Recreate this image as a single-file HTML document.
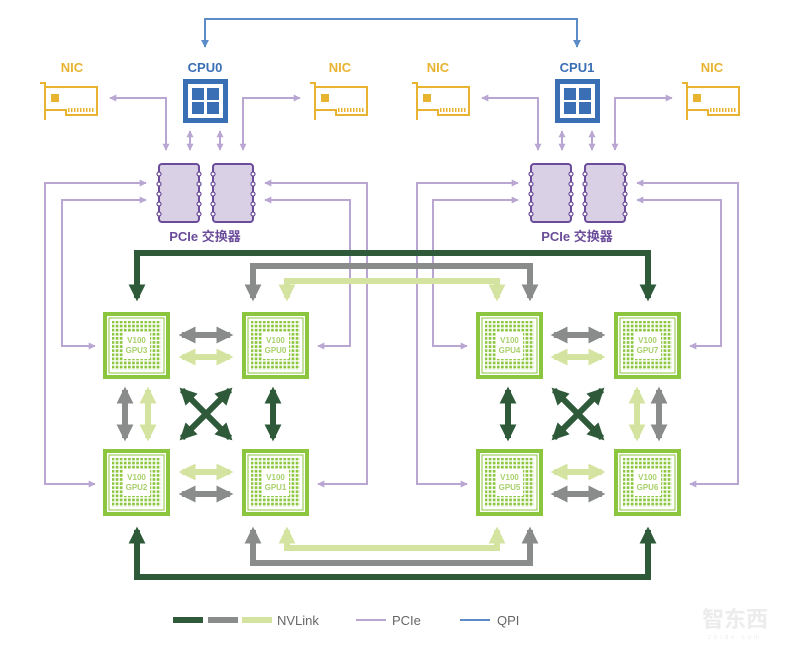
<!DOCTYPE html>
<html><head><meta charset="utf-8"><style>
html,body{margin:0;padding:0;background:#fff;}
svg{display:block;}
text{font-family:"Liberation Sans","Noto Sans CJK SC",sans-serif;}
</style></head><body>
<svg width="800" height="648" viewBox="0 0 800 648" xmlns="http://www.w3.org/2000/svg">
<defs>
<pattern id="dots" x="0" y="0" width="4.1" height="4.1" patternUnits="userSpaceOnUse">
<rect x="0.4" y="0.4" width="2.7" height="2.7" fill="#8cc63f"/>
</pattern>
<marker id="mp" viewBox="0 0 10 10" refX="9" refY="5" markerWidth="7" markerHeight="7" markerUnits="userSpaceOnUse" orient="auto-start-reverse"><path d="M0,0 L10,5 L0,10 z" fill="#b9a6d3"/></marker>
<marker id="mb" viewBox="0 0 10 10" refX="9" refY="5" markerWidth="8" markerHeight="8" markerUnits="userSpaceOnUse" orient="auto-start-reverse"><path d="M0,0 L10,5 L0,10 z" fill="#5b8cc8"/></marker>
<marker id="md" viewBox="0 0 10 10" refX="8" refY="5" markerWidth="17" markerHeight="17" markerUnits="userSpaceOnUse" orient="auto-start-reverse"><path d="M0,0 L10,5 L0,10 z" fill="#2e5a3a"/></marker>
<marker id="mg" viewBox="0 0 10 10" refX="8" refY="5" markerWidth="17" markerHeight="17" markerUnits="userSpaceOnUse" orient="auto-start-reverse"><path d="M0,0 L10,5 L0,10 z" fill="#8a8c8c"/></marker>
<marker id="ml" viewBox="0 0 10 10" refX="8" refY="5" markerWidth="17" markerHeight="17" markerUnits="userSpaceOnUse" orient="auto-start-reverse"><path d="M0,0 L10,5 L0,10 z" fill="#d4e4a0"/></marker>
<g id="gpu">
<rect x="0" y="0" width="67" height="67" fill="#8cc63f"/>
<rect x="4" y="4" width="59" height="59" fill="#fff"/>
<rect x="6" y="6" width="55" height="55" fill="none" stroke="#8cc63f" stroke-width="1"/>
<rect x="9" y="9" width="49" height="49" fill="url(#dots)"/>
<rect x="20" y="20" width="27" height="27" fill="#fff"/>
</g>
<g id="chip">
<rect x="0" y="0" width="40" height="58" rx="3" fill="#d9d0e6" stroke="#6b4c9a" stroke-width="2"/>
<g fill="#fff" stroke="#6b4c9a" stroke-width="1.2">
<circle cx="0" cy="10" r="2"/><circle cx="0" cy="20" r="2"/><circle cx="0" cy="30" r="2"/><circle cx="0" cy="40" r="2"/><circle cx="0" cy="50" r="2"/>
<circle cx="40" cy="10" r="2"/><circle cx="40" cy="20" r="2"/><circle cx="40" cy="30" r="2"/><circle cx="40" cy="40" r="2"/><circle cx="40" cy="50" r="2"/>
</g>
</g>
<g id="cpu">
<rect x="0" y="0" width="45" height="44" fill="#3a6eb5"/>
<rect x="5" y="5" width="35" height="34" fill="#fff"/>
<rect x="9" y="9" width="12" height="12" fill="#3a6eb5"/>
<rect x="24" y="9" width="12" height="12" fill="#3a6eb5"/>
<rect x="9" y="23" width="12" height="12" fill="#3a6eb5"/>
<rect x="24" y="23" width="12" height="12" fill="#3a6eb5"/>
</g>
<g id="nic" fill="none" stroke="#e8b330" stroke-width="2">
<path d="M0,1 L5,1 L5,38"/>
<path d="M5,5 L57,5 L57,33 L26,33 L26,28 L5,28"/>
<rect x="11" y="12" width="8" height="8" fill="#e8b330" stroke="none"/>
<path d="M28,28 L55,28" stroke-dasharray="1.5,1.5" stroke-width="4"/>
</g>
</defs>

<path d="M205,47 L205,19 L577,19 L577,47" fill="none" stroke="#5b8cc8" stroke-width="2" marker-start="url(#mb)" marker-end="url(#mb)"/>

<g font-size="13" font-weight="bold" text-anchor="middle">
<text x="72" y="72" fill="#e8b330">NIC</text>
<text x="340" y="72" fill="#e8b330">NIC</text>
<text x="438" y="72" fill="#e8b330">NIC</text>
<text x="712" y="72" fill="#e8b330">NIC</text>
<text x="205" y="72" fill="#3a6eb5">CPU0</text>
<text x="577" y="72" fill="#3a6eb5">CPU1</text>
<text x="205" y="241" fill="#6b4c9a">PCIe 交换器</text>
<text x="577" y="241" fill="#6b4c9a">PCIe 交换器</text>
</g>

<use href="#cpu" x="183" y="79"/>
<use href="#cpu" x="555" y="79"/>
<use href="#nic" x="40" y="82"/>
<use href="#nic" x="310" y="82"/>
<use href="#nic" x="412" y="82"/>
<use href="#nic" x="682" y="82"/>
<use href="#chip" x="159" y="164"/>
<use href="#chip" x="213" y="164"/>
<use href="#chip" x="531" y="164"/>
<use href="#chip" x="585" y="164"/>

<g fill="none" stroke="#b9a6d3" stroke-width="2" marker-end="url(#mp)">
<path d="M166,150 L166,98 L110,98" marker-start="url(#mp)"/>
<path d="M243,150 L243,98 L300,98" marker-start="url(#mp)"/>
<path d="M190,131 L190,150" marker-start="url(#mp)"/>
<path d="M220,131 L220,150" marker-start="url(#mp)"/>
<path d="M538,150 L538,98 L482,98" marker-start="url(#mp)"/>
<path d="M615,150 L615,98 L672,98" marker-start="url(#mp)"/>
<path d="M562,131 L562,150" marker-start="url(#mp)"/>
<path d="M592,131 L592,150" marker-start="url(#mp)"/>
<path d="M95,484 L45,484 L45,183 L146,183" marker-start="url(#mp)"/>
<path d="M95,346 L62,346 L62,200 L146,200" marker-start="url(#mp)"/>
<path d="M318,484 L367,484 L367,183 L265,183" marker-start="url(#mp)"/>
<path d="M318,346 L350,346 L350,200 L265,200" marker-start="url(#mp)"/>
<path d="M467,484 L417,484 L417,183 L518,183" marker-start="url(#mp)"/>
<path d="M467,346 L433,346 L433,200 L518,200" marker-start="url(#mp)"/>
<path d="M690,484 L738,484 L738,183 L637,183" marker-start="url(#mp)"/>
<path d="M690,346 L721,346 L721,200 L637,200" marker-start="url(#mp)"/>
</g>

<g fill="none" stroke-width="6">
<path d="M137,298 L137,253 L648,253 L648,298" stroke="#2e5a3a" marker-start="url(#md)" marker-end="url(#md)"/>
<path d="M253,298 L253,266 L530,266 L530,298" stroke="#8a8c8c" marker-start="url(#mg)" marker-end="url(#mg)"/>
<path d="M287,298 L287,281 L497,281 L497,298" stroke="#d4e4a0" marker-start="url(#ml)" marker-end="url(#ml)"/>
<path d="M137,530 L137,577 L648,577 L648,530" stroke="#2e5a3a" marker-start="url(#md)" marker-end="url(#md)"/>
<path d="M253,530 L253,563 L530,563 L530,530" stroke="#8a8c8c" marker-start="url(#mg)" marker-end="url(#mg)"/>
<path d="M287,530 L287,548 L497,548 L497,530" stroke="#d4e4a0" marker-start="url(#ml)" marker-end="url(#ml)"/>
</g>

<g fill="none" stroke-width="6">
<path d="M182,335 L230,335" stroke="#8a8c8c" marker-start="url(#mg)" marker-end="url(#mg)"/>
<path d="M182,357 L230,357" stroke="#d4e4a0" marker-start="url(#ml)" marker-end="url(#ml)"/>
<path d="M182,472 L230,472" stroke="#d4e4a0" marker-start="url(#ml)" marker-end="url(#ml)"/>
<path d="M182,494 L230,494" stroke="#8a8c8c" marker-start="url(#mg)" marker-end="url(#mg)"/>
<path d="M125,390 L125,438" stroke="#8a8c8c" marker-start="url(#mg)" marker-end="url(#mg)"/>
<path d="M148,390 L148,438" stroke="#d4e4a0" marker-start="url(#ml)" marker-end="url(#ml)"/>
<path d="M273,390 L273,438" stroke="#2e5a3a" marker-start="url(#md)" marker-end="url(#md)"/>
<path d="M182,390 L230,438" stroke="#2e5a3a" marker-start="url(#md)" marker-end="url(#md)"/>
<path d="M230,390 L182,438" stroke="#2e5a3a" marker-start="url(#md)" marker-end="url(#md)"/>

<path d="M554,335 L602,335" stroke="#8a8c8c" marker-start="url(#mg)" marker-end="url(#mg)"/>
<path d="M554,357 L602,357" stroke="#d4e4a0" marker-start="url(#ml)" marker-end="url(#ml)"/>
<path d="M554,472 L602,472" stroke="#d4e4a0" marker-start="url(#ml)" marker-end="url(#ml)"/>
<path d="M554,494 L602,494" stroke="#8a8c8c" marker-start="url(#mg)" marker-end="url(#mg)"/>
<path d="M508,390 L508,438" stroke="#2e5a3a" marker-start="url(#md)" marker-end="url(#md)"/>
<path d="M637,390 L637,438" stroke="#d4e4a0" marker-start="url(#ml)" marker-end="url(#ml)"/>
<path d="M659,390 L659,438" stroke="#8a8c8c" marker-start="url(#mg)" marker-end="url(#mg)"/>
<path d="M554,390 L602,438" stroke="#2e5a3a" marker-start="url(#md)" marker-end="url(#md)"/>
<path d="M602,390 L554,438" stroke="#2e5a3a" marker-start="url(#md)" marker-end="url(#md)"/>
</g>

<use href="#gpu" x="103" y="312"/>
<use href="#gpu" x="242" y="312"/>
<use href="#gpu" x="103" y="449"/>
<use href="#gpu" x="242" y="449"/>
<use href="#gpu" x="476" y="312"/>
<use href="#gpu" x="614" y="312"/>
<use href="#gpu" x="476" y="449"/>
<use href="#gpu" x="614" y="449"/>
<g font-size="8" font-weight="bold" fill="#a8d06a" text-anchor="middle">
<text x="136.5" y="343">V100</text><text x="136.5" y="353">GPU3</text>
<text x="275.5" y="343">V100</text><text x="275.5" y="353">GPU0</text>
<text x="136.5" y="480">V100</text><text x="136.5" y="490">GPU2</text>
<text x="275.5" y="480">V100</text><text x="275.5" y="490">GPU1</text>
<text x="509.5" y="343">V100</text><text x="509.5" y="353">GPU4</text>
<text x="647.5" y="343">V100</text><text x="647.5" y="353">GPU7</text>
<text x="509.5" y="480">V100</text><text x="509.5" y="490">GPU5</text>
<text x="647.5" y="480">V100</text><text x="647.5" y="490">GPU6</text>
</g>

<rect x="173" y="617" width="30" height="6" fill="#2e5a3a"/>
<rect x="208" y="617" width="30" height="6" fill="#8a8c8c"/>
<rect x="242" y="617" width="30" height="6" fill="#d4e4a0"/>
<text x="277" y="625" font-size="13" fill="#666">NVLink</text>
<rect x="356" y="619" width="30" height="2" fill="#b9a6d3"/>
<text x="392" y="625" font-size="13" fill="#666">PCIe</text>
<rect x="460" y="619" width="30" height="2" fill="#5b8cc8"/>
<text x="497" y="625" font-size="13" fill="#666">QPI</text>
<text x="735" y="627" font-size="22" fill="#ececec" text-anchor="middle" font-weight="bold">智东西</text>
<text x="735" y="639" font-size="6" fill="#ececec" text-anchor="middle" letter-spacing="3">zhidx.com</text>
</svg>
</body></html>
